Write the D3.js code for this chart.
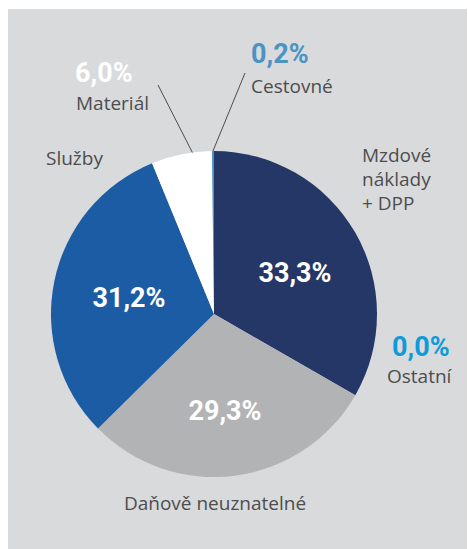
<!DOCTYPE html>
<html>
<head>
<meta charset="utf-8">
<script src="https://cdn.jsdelivr.net/npm/d3@7"></script>
<style>
  html, body { margin: 0; padding: 0; background: #fff; }
  svg { display: block; }
</style>
</head>
<body>
<div id="pie-chart"></div>
<script>
// Cost structure pie (values in %), clockwise from 12 o'clock
const categories = ['Mzdové náklady + DPP', 'Ostatní', 'Daňově neuznatelné', 'Služby', 'Materiál', 'Cestovné'];
const shares = [33.3, 0.0, 29.3, 31.2, 6.0, 0.2];
const pctLabels = ['33,3%', '0,0%', '29,3%', '31,2%', '6,0%', '0,2%'];
const sliceColors = ['#243766', '#0f9ad8', '#b2b3b5', '#1b5ca4', '#ffffff', '#4a93c3'];

const W = 468, H = 549;
const cx = 214, cy = 314, radius = 163;

const svg = d3.select('#pie-chart')
  .append('svg')
  .attr('width', W)
  .attr('height', H);

// grey panel
svg.append('rect')
  .attr('x', 8).attr('y', 9)
  .attr('width', 459).attr('height', H - 9)
  .attr('fill', '#d9dadc');

const pie = d3.pie().sort(null).value(d => d);
const arcs = pie(shares);
const arc = d3.arc().innerRadius(0).outerRadius(radius);

const g = svg.append('g').attr('transform', `translate(${cx},${cy})`);

g.selectAll('path.slice')
  .data(arcs)
  .enter()
  .append('path')
  .attr('class', 'slice')
  .attr('d', arc)
  .attr('fill', (d, i) => sliceColors[i]);

// label layout: inside labels for big slices, outside text for the rest
const inside = {
  0: {dx: 0.72, dy: 0.0},
  2: {dx: 0.12, dy: 0.0},
  3: {dx: 0.0, dy: 0.0}
};
const insidePos = {0: [295, 282], 2: [225, 420], 3: [129, 307]};

Object.keys(insidePos).forEach(k => {
  const i = +k;
  svg.append('text')
    .attr('x', insidePos[i][0])
    .attr('y', insidePos[i][1])
    .attr('text-anchor', 'middle')
    .attr('font-family', 'Roboto, sans-serif')
    .attr('font-weight', 700)
    .attr('font-size', '27px')
    .attr('fill', '#ffffff')
    .text(pctLabels[i]);
});

const labelFont = '"Open Sans", "Noto Sans", sans-serif';
const labelColor = '#4d4d4f';

function catText(x, y, lines, anchor) {
  const t = svg.append('text')
    .attr('x', x).attr('y', y)
    .attr('text-anchor', anchor || 'start')
    .attr('font-family', labelFont)
    .attr('font-size', '19px')
    .attr('fill', labelColor);
  lines.forEach((l, j) => {
    t.append('tspan').attr('x', x).attr('dy', j ? 24 : 0).text(l);
  });
}

function pctText(x, y, i, color) {
  svg.append('text')
    .attr('x', x).attr('y', y)
    .attr('font-family', 'Roboto, sans-serif')
    .attr('font-weight', 700)
    .attr('font-size', '27px')
    .attr('fill', color)
    .text(pctLabels[i]);
}

// Mzdové náklady + DPP
catText(362, 162, ['Mzdové', 'náklady', '+ DPP']);
// Ostatní
pctText(392, 356, 1, '#0f9ad8');
catText(387, 383, [categories[1]]);
// Daňově neuznatelné
catText(215, 510, [categories[2]], 'middle');
// Služby
catText(46, 165, [categories[3]]);
// Materiál
pctText(75, 82, 4, '#ffffff');
catText(76, 110, [categories[4]]);
// Cestovné
pctText(251, 63, 5, '#4a93c3');
catText(251, 93, [categories[5]]);

// leader lines from slice edge to the outside labels
function edgePoint(d, frac) {
  const a = d.startAngle + (d.endAngle - d.startAngle) * frac;
  return [cx + radius * Math.sin(a), cy - radius * Math.cos(a)];
}
const leaders = [
  {i: 4, frac: 0.68, to: [158, 85]},
  {i: 5, frac: 0.5, to: [245, 73]}
];
leaders.forEach(l => {
  const p = edgePoint(arcs[l.i], l.frac);
  svg.append('line')
    .attr('x1', p[0]).attr('y1', p[1])
    .attr('x2', l.to[0]).attr('y2', l.to[1])
    .attr('stroke', '#4d4d4f')
    .attr('stroke-width', 1);
});
</script>
</body>
</html>
